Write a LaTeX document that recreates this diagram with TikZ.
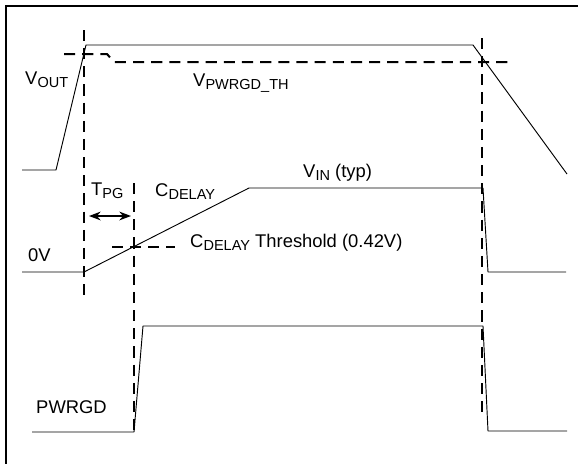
\documentclass[tikz,border=0pt]{standalone}
\usepackage{fontspec}
\setmainfont{Liberation Sans}
\usetikzlibrary{positioning,arrows.meta}

\newcommand{\lsub}[1]{\raisebox{-2.6pt}{\fontsize{12.4}{13}\selectfont #1}}

\tikzset{
  wave/.style={line width=0.8pt,line join=round},
  guide/.style={line width=1.7pt,dash pattern=on 9.5pt off 6pt},
  lbl/.style={inner sep=0pt,font=\fontsize{15.7}{18}\selectfont}
}

\begin{document}
\begin{tikzpicture}[x=0.03cm,y=-0.03cm]
  \useasboundingbox (0,0) rectangle (578,463);
  \clip (0,0) rectangle (578,463);
  \draw[line width=1.7pt] (6,6) rectangle (600,490);

  \coordinate (tstart) at (84,0);
  \coordinate (tpg) at (134,0);
  \coordinate (toff) at (482,0);

  \draw[guide] (tstart |- 0,30) -- (tstart |- 0,298);
  \draw[guide] (tpg |- 0,183) -- (tpg |- 0,432);
  \draw[guide] (toff |- 0,38) -- (toff |- 0,418);
  \draw[guide] (64,54) -- (107,54) -- (114,62) -- (509,62);
  \draw[guide] (112,247) -- (175,247);

  \draw[wave] (22,170) -- (56,170) -- (86,45) -- (473,45) -- (567,174);
  \draw[wave] (22,272) -- (84,272) -- (249,188) -- (483,188) -- (488,272) -- (566,272);
  \draw[wave] (32,432) -- (134,432) -- (143,326) -- (483,326) -- (488,431) -- (567,431);

  \coordinate (tpgl) at (89,216);
  \coordinate (tpgr) at (131,216);
  \draw[line width=1.2pt,{Stealth[length=10pt,width=7.5pt]}-{Stealth[length=10pt,width=7.5pt]}] (tpgl) -- (tpgr);

  \node[lbl,anchor=base west] (vout) at (25,84) {V\lsub{OUT}};
  \node[lbl,anchor=base west] (vth) at (193,86) {V\lsub{PWRGD\_TH}};
  \node[lbl,anchor=base west] (vin) at (303,177) {V\lsub{IN} (typ)};
  \node[lbl,anchor=base west] (cdelay) at (155,196) {C\lsub{DELAY}};
  \node[lbl,anchor=base west] (tpglbl) at (91,195) {T\lsub{PG}};
  \node[lbl,anchor=base west] (zero) at (28,261) {0V};
  \node[lbl,anchor=base west] (cth) at (190,247) {C\lsub{DELAY} Threshold (0.42V)};
  \node[lbl,anchor=base west] (pwrgd) at (36,413) {PWRGD};
\end{tikzpicture}
\end{document}
